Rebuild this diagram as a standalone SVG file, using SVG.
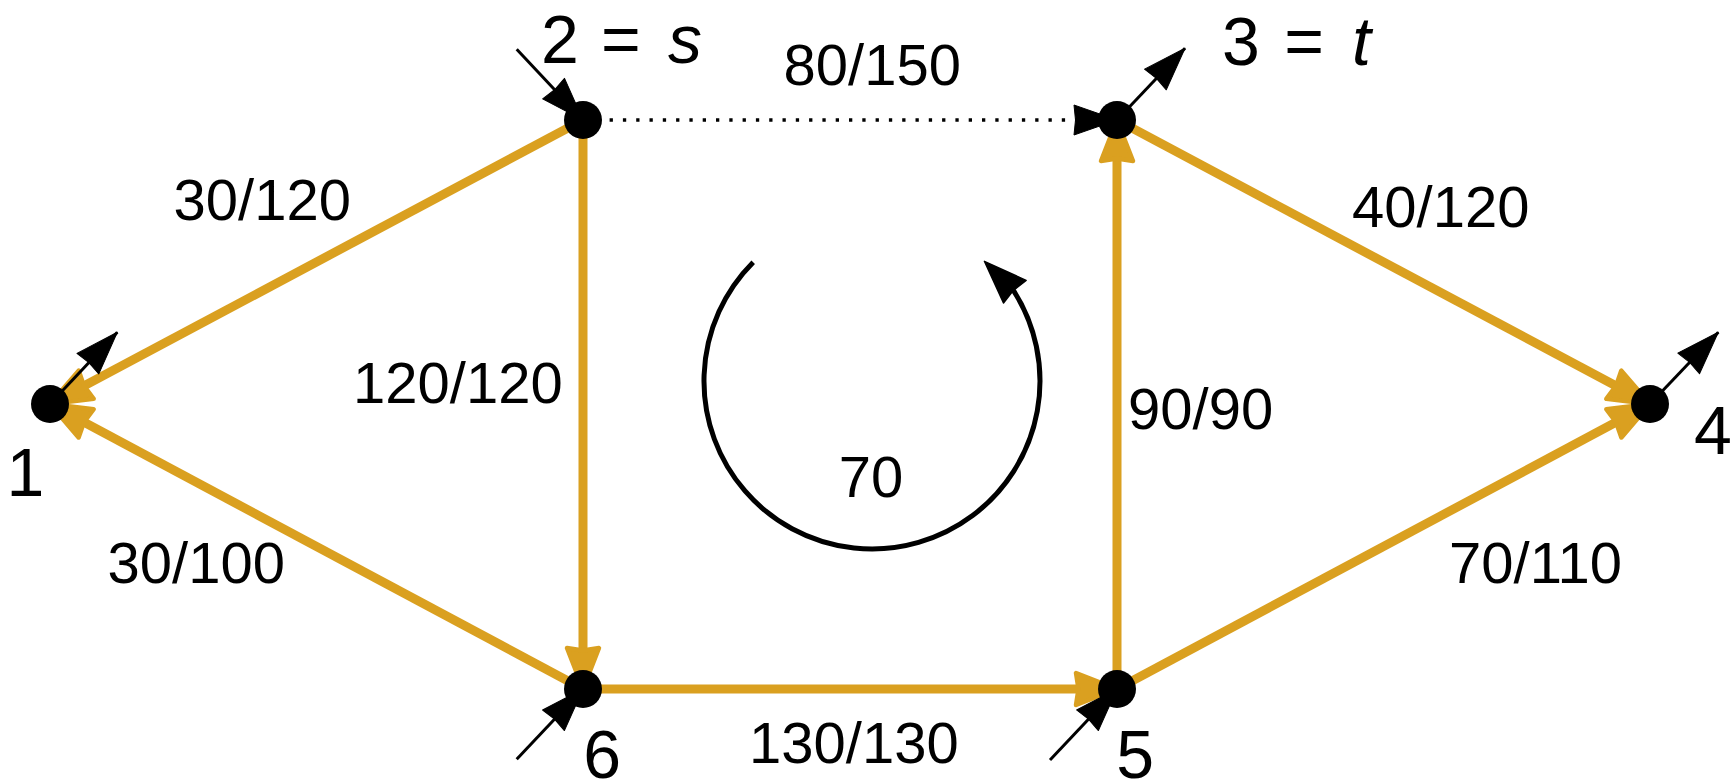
<svg xmlns="http://www.w3.org/2000/svg" width="1734" height="783" viewBox="0 0 1734 783">
  <style>
    .edge { fill: none; stroke: #DAA020; stroke-width: 9; marker-end: url(#ah-orange); }
    .dotted { fill: none; stroke: #000; stroke-width: 3.3; stroke-dasharray: 3.3 10; marker-end: url(#ah-black); }
    .term { fill: none; stroke: #000; stroke-width: 3; marker-end: url(#ah-black); }
    .cycle { fill: none; stroke: #000; stroke-width: 5; marker-end: url(#ah-cycle); }
    .node { fill: #000; }
    .elabel { font-family: "Liberation Sans", Arial, sans-serif; font-size: 58px; fill: #000; }
    .nlabel { font-family: "Liberation Sans", Arial, sans-serif; font-size: 68px; fill: #000; }
    .it { font-style: italic; }
  </style>
  <defs>
    <marker id="ah-orange" markerUnits="userSpaceOnUse" viewBox="-50 -22 56 44" markerWidth="56" markerHeight="44" refX="0" refY="0" orient="auto" overflow="visible">
      <path d="M0,0 L-41,-16 L-38.5,0 L-41,16 Z" fill="#DAA020" stroke="#DAA020" stroke-width="4.5" stroke-linejoin="round"/>
    </marker>
    <marker id="ah-black" markerUnits="userSpaceOnUse" viewBox="-50 -20 56 40" markerWidth="56" markerHeight="40" refX="0" refY="0" orient="auto" overflow="visible">
      <path d="M0,0 L-43,-15 L-41.5,0 L-43,15 Z" fill="#000" stroke="#000" stroke-width="1" stroke-linejoin="round"/>
    </marker>
    <marker id="ah-cycle" markerUnits="userSpaceOnUse" viewBox="-5 -20 56 40" markerWidth="56" markerHeight="40" refX="2" refY="0" orient="225" overflow="visible">
      <path d="M43,0 L0,-16 L2,0 L0,16 Z" fill="#000" stroke="#000" stroke-width="1.5" stroke-linejoin="round"/>
    </marker>
  </defs>
  <rect width="1734" height="783" fill="#fff"/>

  <g id="connectors">
    <path id="e2-1" class="edge" d="M583,120 L50,404"/>
    <path id="e6-1" class="edge" d="M583,689 L50,404"/>
    <path id="e2-6" class="edge" d="M583,120 L583,689"/>
    <path id="e6-5" class="edge" d="M583,689 L1117,689"/>
    <path id="e5-3" class="edge" d="M1117,689 L1117,120"/>
    <path id="e3-4" class="edge" d="M1117,120 L1650,404"/>
    <path id="e5-4" class="edge" d="M1117,689 L1650,404"/>
    <path id="e2-3" class="dotted" d="M583,120 L1117,120"/>
    <path id="in2" class="term" d="M516.7,49.3 L583,120"/>
    <path id="in6" class="term" d="M516.7,759.3 L583,689"/>
    <path id="in5" class="term" d="M1050,760 L1117,689"/>
    <path id="out1" class="term" d="M50,404 L117.3,332.3"/>
    <path id="out3" class="term" d="M1117,120 L1185,48.3"/>
    <path id="out4" class="term" d="M1650,404 L1718.3,332.3"/>
  </g>

  <g id="edge-labels">
    <text class="elabel" x="173.5" y="220">30/120</text>
    <text class="elabel" x="107.5" y="583">30/100</text>
    <text class="elabel" x="353" y="403">120/120</text>
    <text class="elabel" x="783.5" y="85">80/150</text>
    <text class="elabel" x="1352" y="227">40/120</text>
    <text class="elabel" x="1128" y="429">90/90</text>
    <text class="elabel" x="1449" y="583">70/110</text>
    <text class="elabel" x="749" y="763">130/130</text>
  </g>

  <g id="cycle">
    <path class="cycle" d="M753.2,262.2 A168,168 0 1 0 1013.4,290.3"/>
    <text class="elabel" x="838.7" y="497">70</text>
  </g>

  <g id="node1">
    <circle class="node" cx="50" cy="404" r="19"/>
    <text class="nlabel" x="6.6" y="496">1</text>
  </g>
  <g id="node2">
    <circle class="node" cx="583" cy="120" r="19"/>
    <text class="nlabel" y="63.3"><tspan x="541">2</tspan><tspan x="601">=</tspan><tspan x="668" class="it">s</tspan></text>
  </g>
  <g id="node3">
    <circle class="node" cx="1117" cy="120" r="19"/>
    <text class="nlabel" y="65"><tspan x="1222">3</tspan><tspan x="1284.3">=</tspan><tspan x="1352" class="it">t</tspan></text>
  </g>
  <g id="node4">
    <circle class="node" cx="1650" cy="404" r="19"/>
    <text class="nlabel" x="1694" y="454">4</text>
  </g>
  <g id="node5">
    <circle class="node" cx="1117" cy="689" r="19"/>
    <text class="nlabel" x="1116.3" y="778">5</text>
  </g>
  <g id="node6">
    <circle class="node" cx="583" cy="689" r="19"/>
    <text class="nlabel" x="583.3" y="778">6</text>
  </g>
</svg>
